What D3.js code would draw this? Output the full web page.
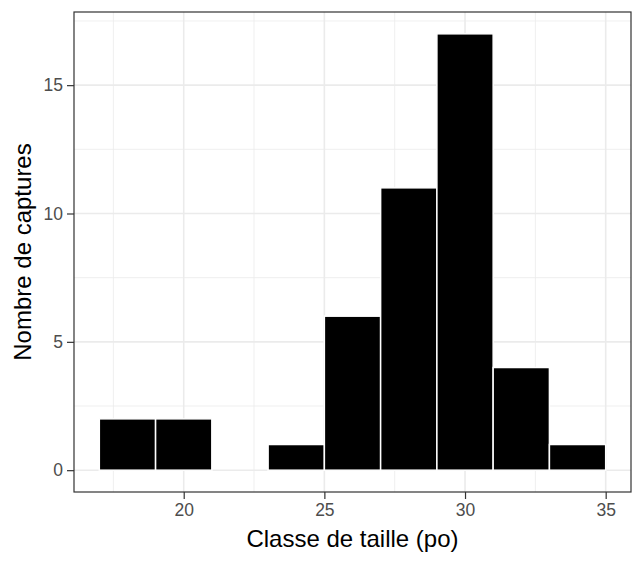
<!DOCTYPE html>
<html><head><meta charset="utf-8">
<script src="https://cdn.jsdelivr.net/npm/d3@7"></script>
<style>body{margin:0;background:#fff}</style>
</head><body><svg id="c" width="644" height="563"></svg>
<script>
const binStart = [17, 19, 21, 23, 25, 27, 29, 31, 33];
const binWidth = 2;
const counts = [2, 2, 0, 1, 6, 11, 17, 4, 1];
const xTicks = [20, 25, 30, 35];
const xMinor = [17.5, 22.5, 27.5, 32.5];
const yTicks = [0, 5, 10, 15];
const yMinor = [2.5, 7.5, 12.5, 17.5];

const svg = d3.select("#c");
const L = 74, R = 631, T = 12, B = 492;
const x = d3.scaleLinear().domain([16.1, 35.9]).range([L, R]);
const y = d3.scaleLinear().domain([-0.85, 17.85]).range([B, T]);
const FONT = "Liberation Sans, Arial, sans-serif";

svg.append("rect").attr("x", 0).attr("y", 0).attr("width", 644).attr("height", 563).attr("fill", "#fff");
const g = svg.append("g");
g.selectAll(".xmin").data(xMinor).enter().append("line")
  .attr("x1", d => x(d)).attr("x2", d => x(d)).attr("y1", T).attr("y2", B)
  .attr("stroke", "#ebebeb").attr("stroke-width", 0.8);
g.selectAll(".ymin").data(yMinor).enter().append("line")
  .attr("y1", d => y(d)).attr("y2", d => y(d)).attr("x1", L).attr("x2", R)
  .attr("stroke", "#ebebeb").attr("stroke-width", 0.8);
g.selectAll(".xmaj").data(xTicks).enter().append("line")
  .attr("x1", d => x(d)).attr("x2", d => x(d)).attr("y1", T).attr("y2", B)
  .attr("stroke", "#ebebeb").attr("stroke-width", 1.6);
g.selectAll(".ymaj").data(yTicks).enter().append("line")
  .attr("y1", d => y(d)).attr("y2", d => y(d)).attr("x1", L).attr("x2", R)
  .attr("stroke", "#ebebeb").attr("stroke-width", 1.6);

const data = binStart.map((s, i) => ({s, c: counts[i]}));
g.selectAll(".bar").data(data).enter().append("rect")
  .attr("x", d => x(d.s)).attr("width", d => x(d.s + binWidth) - x(d.s))
  .attr("y", d => y(d.c)).attr("height", d => y(0) - y(d.c))
  .attr("fill", "#000").attr("stroke", "#fff").attr("stroke-width", 1.5);

svg.append("rect").attr("x", L).attr("y", T).attr("width", R - L).attr("height", B - T)
  .attr("fill", "none").attr("stroke", "#333").attr("stroke-width", 1.2);

const xa = svg.append("g").attr("transform", `translate(0,${B})`)
  .call(d3.axisBottom(x).tickValues(xTicks).tickSize(7).tickPadding(5));
const ya = svg.append("g").attr("transform", `translate(${L},0)`)
  .call(d3.axisLeft(y).tickValues(yTicks).tickSize(7).tickPadding(4));
[xa, ya].forEach(a => {
  a.select(".domain").remove();
  a.selectAll("line").attr("stroke", "#333").attr("stroke-width", 1.2);
  a.selectAll("text").attr("fill", "#4d4d4d").style("font-family", FONT).style("font-size", "17.5px");
});

svg.append("text").attr("x", (L + R) / 2).attr("y", 547).attr("text-anchor", "middle")
  .style("font-family", FONT).style("font-size", "24px").attr("fill", "#000")
  .text("Classe de taille (po)");
svg.append("text").attr("transform", `translate(31,${(T + B) / 2}) rotate(-90)`).attr("text-anchor", "middle")
  .style("font-family", FONT).style("font-size", "24px").attr("fill", "#000")
  .text("Nombre de captures");
</script></body></html>
